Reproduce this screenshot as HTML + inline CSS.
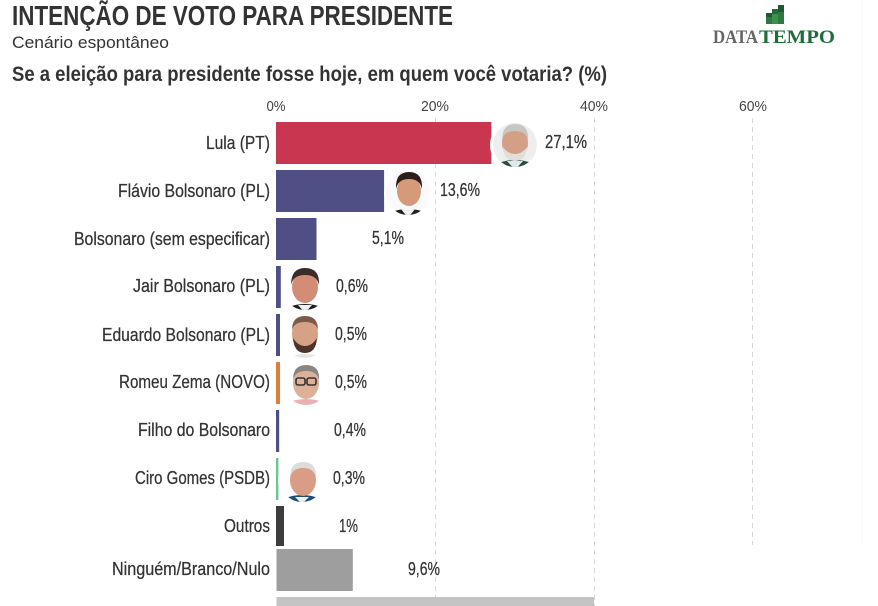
<!DOCTYPE html>
<html>
<head>
<meta charset="utf-8">
<style>
  html,body{margin:0;padding:0;background:#fff;}
  svg{display:block;}
  text{font-family:"Liberation Sans Narrow","Liberation Sans",sans-serif;}
  .serif{font-family:"Liberation Serif",serif;}
</style>
</head>
<body>
<svg width="878" height="606" viewBox="0 0 878 606" xmlns="http://www.w3.org/2000/svg">
  <defs>
    <clipPath id="c1"><circle cx="515" cy="145" r="22"/></clipPath>
    <clipPath id="c2"><circle cx="408" cy="193" r="22"/></clipPath>
    <clipPath id="c3"><circle cx="305" cy="288" r="22"/></clipPath>
    <clipPath id="c4"><circle cx="305" cy="336" r="22"/></clipPath>
    <clipPath id="c5"><circle cx="306" cy="383" r="22"/></clipPath>
    <clipPath id="c6"><circle cx="302" cy="480" r="22"/></clipPath>
  </defs>
  <rect width="878" height="606" fill="#fff"/>
  <line x1="862" y1="0" x2="862" y2="545" stroke="#f6f6f6" stroke-width="1"/>

  <!-- Header -->
  <text x="12" y="25" font-size="28" font-weight="bold" fill="#333" textLength="441" lengthAdjust="spacingAndGlyphs">INTENÇÃO DE VOTO PARA PRESIDENTE</text>
  <text x="12" y="48" font-size="17" fill="#333" textLength="157" lengthAdjust="spacingAndGlyphs">Cenário espontâneo</text>
  <text x="12" y="81" font-size="21" font-weight="bold" fill="#333" textLength="595" lengthAdjust="spacingAndGlyphs">Se a eleição para presidente fosse hoje, em quem você votaria? (%)</text>

  <!-- Logo -->
  <rect x="766" y="13" width="6" height="11" fill="#2c7a41"/>
  <rect x="766" y="13" width="6" height="4" fill="#1d5a2e"/>
  <rect x="772" y="9" width="6" height="15" fill="#3a9150"/>
  <rect x="772" y="9" width="6" height="5" fill="#226a36"/>
  <rect x="778" y="5" width="6" height="19" fill="#2c7a41"/>
  <rect x="778" y="5" width="6" height="7" fill="#1d5a2e"/>
  <text class="serif" x="713" y="43" font-size="19" font-weight="bold" fill="#666" textLength="45" lengthAdjust="spacingAndGlyphs">DATA</text>
  <text class="serif" x="759" y="43" font-size="19" font-weight="bold" fill="#1f6e3a" textLength="76" lengthAdjust="spacingAndGlyphs">TEMPO</text>

  <!-- Axis ticks -->
  <g font-size="15" fill="#444" text-anchor="middle">
    <text x="276" y="111" textLength="19" lengthAdjust="spacingAndGlyphs">0%</text>
    <text x="435" y="111" textLength="28" lengthAdjust="spacingAndGlyphs">20%</text>
    <text x="594" y="111" textLength="28" lengthAdjust="spacingAndGlyphs">40%</text>
    <text x="753" y="111" textLength="28" lengthAdjust="spacingAndGlyphs">60%</text>
  </g>

  <!-- Gridlines -->
  <g stroke="#d9d9d9" stroke-width="1" stroke-dasharray="5,4">
    <line x1="435.5" y1="118" x2="435.5" y2="597"/>
    <line x1="594.5" y1="118" x2="594.5" y2="606"/>
    <line x1="752.5" y1="118" x2="752.5" y2="545"/>
  </g>

  <!-- Bars -->
  <rect x="276" y="122" width="215.4" height="42" fill="#c9364f"/>
  <rect x="276" y="170" width="108.1" height="42" fill="#4f4f86"/>
  <rect x="276" y="218" width="40.5" height="42" fill="#4f4f86"/>
  <rect x="276" y="266" width="4.8" height="42" fill="#4f4f86"/>
  <rect x="276" y="314" width="4" height="42" fill="#4f4f86"/>
  <rect x="276" y="362" width="4" height="42" fill="#e07d3c"/>
  <rect x="276" y="410" width="3.2" height="42" fill="#4f4f86"/>
  <rect x="276" y="458" width="2.4" height="42" fill="#6cc49a"/>
  <rect x="276" y="506" width="8" height="40" fill="#3d3d3d"/>
  <rect x="276.5" y="549" width="76.3" height="42" fill="#9e9e9e"/>
  <rect x="276.5" y="597" width="317.5" height="9" fill="#c4c4c4"/>

  <!-- Notches -->
  <g fill="#fff">
    <circle cx="515" cy="145" r="25"/>
    <circle cx="408" cy="193" r="24"/>
    <circle cx="305" cy="288" r="24"/>
    <circle cx="305" cy="336" r="24"/>
    <circle cx="306" cy="383" r="24"/>
    <circle cx="302" cy="480" r="24"/>
  </g>

  <!-- Lula -->
  <g clip-path="url(#c1)">
    <circle cx="515" cy="145" r="22" fill="#eeeeee"/>
    <ellipse cx="515" cy="172" rx="24" ry="12" fill="#2e4a3e"/>
    <path d="M507 161 L515 170 L523 161 Z" fill="#dfe8ee"/>
    <ellipse cx="515" cy="143" rx="13" ry="16" fill="#d3a087"/>
    <path d="M502 140 Q502 124 515 124 Q529 124 528 140 Q526 131 515 131 Q504 131 502 140 Z" fill="#c9c6c2"/>
    <path d="M503 147 Q504 161 515 161 Q526 161 527 147 Q522 154 515 154 Q508 154 503 147 Z" fill="#e2ded9"/>
  </g>
  <!-- Flávio -->
  <g clip-path="url(#c2)">
    <circle cx="408" cy="193" r="22" fill="#fafafa"/>
    <ellipse cx="408" cy="221" rx="24" ry="12" fill="#1e2024"/>
    <path d="M401 209 L408 218 L415 209 Z" fill="#f2f2f2"/>
    <ellipse cx="409" cy="191" rx="12" ry="15" fill="#d49a79"/>
    <path d="M396 189 Q395 172 409 172 Q423 172 422 189 Q420 179 409 179 Q398 179 396 189 Z" fill="#2a1f1a"/>
  </g>
  <!-- Jair -->
  <g clip-path="url(#c3)">
    <circle cx="305" cy="288" r="22" fill="#fff"/>
    <ellipse cx="305" cy="316" rx="24" ry="12" fill="#1c1d22"/>
    <path d="M298 305 L305 313 L312 305 Z" fill="#f0f0f0"/>
    <ellipse cx="305" cy="287" rx="13" ry="16" fill="#d38d76"/>
    <path d="M291 285 Q291 268 305 268 Q320 268 319 285 Q317 275 305 275 Q293 275 291 285 Z" fill="#3a2c26"/>
  </g>
  <!-- Eduardo -->
  <g clip-path="url(#c4)">
    <circle cx="305" cy="336" r="22" fill="#fff"/>
    <ellipse cx="305" cy="364" rx="22" ry="10" fill="#e6e6e6"/>
    <ellipse cx="305" cy="334" rx="13" ry="17" fill="#d7a186"/>
    <path d="M292 330 Q292 316 305 316 Q318 316 318 330 Q316 322 305 322 Q294 322 292 330 Z" fill="#7a5a48"/>
    <path d="M293 338 Q294 353 305 353 Q316 353 317 338 Q312 346 305 346 Q298 346 293 338 Z" fill="#4a3528"/>
  </g>
  <!-- Romeu -->
  <g clip-path="url(#c5)">
    <circle cx="306" cy="383" r="22" fill="#fff"/>
    <ellipse cx="306" cy="409" rx="22" ry="10" fill="#e9b1b3"/>
    <ellipse cx="306" cy="383" rx="13" ry="16" fill="#deb097"/>
    <path d="M293 380 Q293 365 306 365 Q320 365 319 380 Q317 371 306 371 Q295 371 293 380 Z" fill="#8a8580"/>
    <rect x="296" y="378" width="9" height="7" rx="2" fill="none" stroke="#333" stroke-width="1.6"/>
    <rect x="307" y="378" width="9" height="7" rx="2" fill="none" stroke="#333" stroke-width="1.6"/>
  </g>
  <!-- Ciro -->
  <g clip-path="url(#c6)">
    <circle cx="302" cy="480" r="22" fill="#fff"/>
    <ellipse cx="302" cy="507" rx="24" ry="12" fill="#1f4d7a"/>
    <path d="M295 497 L302 504 L309 497 Z" fill="#f2f2f2"/>
    <ellipse cx="303" cy="480" rx="13" ry="16" fill="#d99c84"/>
    <path d="M290 478 Q290 462 303 462 Q317 462 316 478 Q314 468 303 468 Q292 468 290 478 Z" fill="#dcdcdc"/>
  </g>

  <!-- Category labels -->
  <g font-size="18" fill="#333" stroke="#333" stroke-width="0.25" text-anchor="end">
    <text x="270" y="149" textLength="64" lengthAdjust="spacingAndGlyphs">Lula (PT)</text>
    <text x="270" y="197" textLength="152" lengthAdjust="spacingAndGlyphs">Flávio Bolsonaro (PL)</text>
    <text x="270" y="245" textLength="196" lengthAdjust="spacingAndGlyphs">Bolsonaro (sem especificar)</text>
    <text x="270" y="292" textLength="137" lengthAdjust="spacingAndGlyphs">Jair Bolsonaro (PL)</text>
    <text x="270" y="341" textLength="168" lengthAdjust="spacingAndGlyphs">Eduardo Bolsonaro (PL)</text>
    <text x="270" y="388" textLength="151" lengthAdjust="spacingAndGlyphs">Romeu Zema (NOVO)</text>
    <text x="270" y="436" textLength="132" lengthAdjust="spacingAndGlyphs">Filho do Bolsonaro</text>
    <text x="270" y="484" textLength="135" lengthAdjust="spacingAndGlyphs">Ciro Gomes (PSDB)</text>
    <text x="270" y="532" textLength="46" lengthAdjust="spacingAndGlyphs">Outros</text>
    <text x="270" y="575" textLength="158" lengthAdjust="spacingAndGlyphs">Ninguém/Branco/Nulo</text>
  </g>

  <!-- Values -->
  <g font-size="18" fill="#333" stroke="#333" stroke-width="0.25">
    <text x="545" y="148" textLength="42" lengthAdjust="spacingAndGlyphs">27,1%</text>
    <text x="440" y="196" textLength="40" lengthAdjust="spacingAndGlyphs">13,6%</text>
    <text x="372" y="244" textLength="32" lengthAdjust="spacingAndGlyphs">5,1%</text>
    <text x="336" y="292" textLength="32" lengthAdjust="spacingAndGlyphs">0,6%</text>
    <text x="335" y="340" textLength="32" lengthAdjust="spacingAndGlyphs">0,5%</text>
    <text x="335" y="388" textLength="32" lengthAdjust="spacingAndGlyphs">0,5%</text>
    <text x="334" y="436" textLength="32" lengthAdjust="spacingAndGlyphs">0,4%</text>
    <text x="333" y="484" textLength="32" lengthAdjust="spacingAndGlyphs">0,3%</text>
    <text x="339" y="532" textLength="19" lengthAdjust="spacingAndGlyphs">1%</text>
    <text x="408" y="575" textLength="32" lengthAdjust="spacingAndGlyphs">9,6%</text>
  </g>
</svg>
</body>
</html>
